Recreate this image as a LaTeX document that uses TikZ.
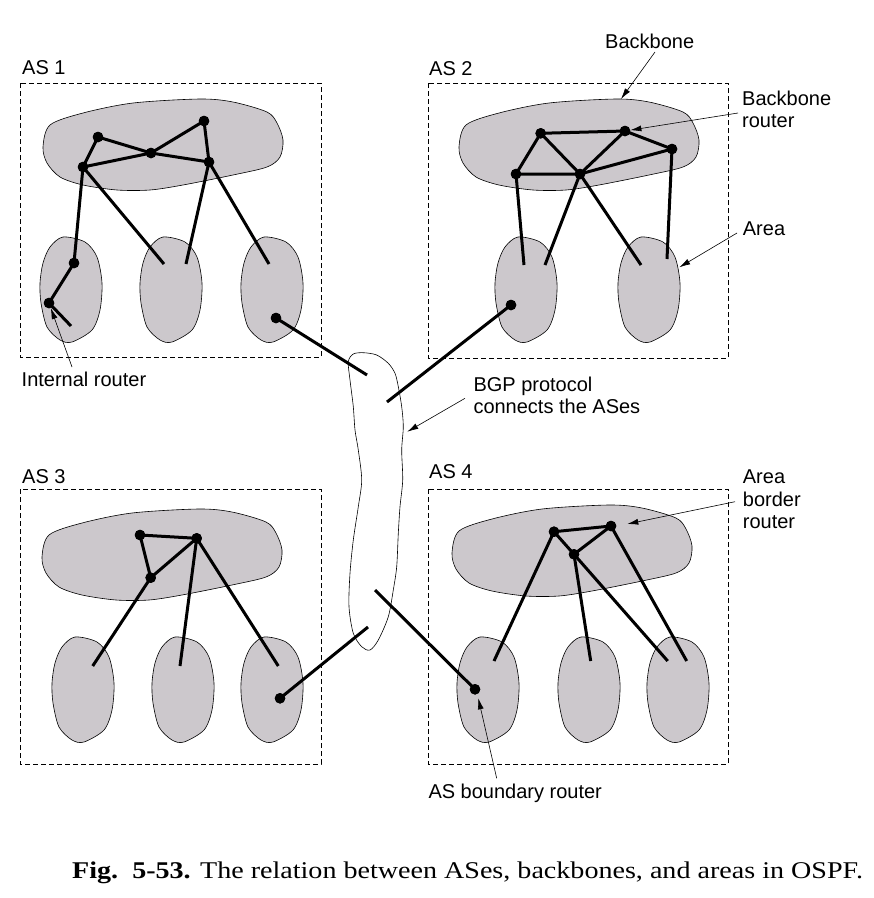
\documentclass[tikz,border=0pt]{standalone}
\usepackage{fontspec}
\usepackage{graphicx}
\setmainfont{Liberation Serif}
\newfontfamily\labfont{Liberation Sans}
\usetikzlibrary{arrows.meta}
\definecolor{areagray}{RGB}{204,200,204}
\tikzset{
  asbox/.style={draw=black, line width=0.8pt, dash pattern=on 5pt off 3pt},
  blob/.style={fill=areagray, draw=black, line width=0.6pt},
  bgpblob/.style={draw=black, line width=0.6pt},
  router/.style={circle, fill=black, inner sep=0pt, minimum size=10.5pt},
  link/.style={line width=3pt},
  lbl/.style={line width=0.6pt, -{Latex[length=11pt,width=6pt]}},
  txt/.style={font=\labfont\fontsize{20}{22.5}\selectfont, inner sep=0pt, anchor=base west},
  mtxt/.style={font=\labfont\fontsize{20}{22.5}\selectfont, inner sep=0pt, anchor=north west, align=left},
}
\begin{document}
\begin{tikzpicture}[x=1pt, y=-1pt]
\useasboundingbox (0,0) rectangle (874,898);

% AS boxes
\draw[asbox] (20,83) rectangle (321,357);
\draw[asbox] (428,83) rectangle (728,358);
\draw[asbox] (20,489) rectangle (321,764);
\draw[asbox] (428,489) rectangle (728,764);

\node[txt] (as1) at (22,74.5) {AS 1};
\node[txt] (as2) at (429,75) {AS 2};
\node[txt] (as3) at (22,483) {AS 3};
\node[txt] (as4) at (429,478.5) {AS 4};

% backbones
\foreach \px/\py in {43/99, 459/99, 42/509, 452/505}{
  \draw[blob, shift={(\px,\py)}] plot[smooth cycle] coordinates
   {(0,48) (7,26) (40,14) (90,4) (157,0) (190,3) (224,13) (234,24) (240,41) (237,58) (224,68) (190,76) (140,86) (107,91) (74,91) (40,86) (17,78) (4,64)};
}
% areas
\foreach \px/\py in {40/237, 140/237, 241/237, 495/237, 618/237, 52/637, 152/637, 241/637, 457/637, 558/637, 647/637}{
  \draw[blob, shift={(\px,\py)}] plot[smooth cycle] coordinates
   {(23,0) (45,5) (57,20) (62,46) (60,73) (52,93) (32,105) (20,103) (7,90) (1,66) (0,46) (3,26) (10,10)};
}
% BGP blob
\draw[bgpblob] plot[smooth cycle] coordinates
 {(363.3,352.7) (376.7,355) (388.3,363.3) (395,373.3) (398.3,386.7) (401.7,406.7) (403.3,426.7) (401.7,450) (402.7,480) (400,506.7) (398.3,533.3) (396.7,566.7) (393.3,590) (388.3,616.7) (378.3,640) (370,650) (361.7,646.7) (353.3,633.3) (349,606.7) (350,573.3) (353.3,540) (358.3,506.7) (361.7,480) (358.3,450) (355,430) (353.3,406.7) (350,380) (348.3,361.7) (353.3,354)};

% ---- AS 1 ----
\node[router] (a1r1) at (98,137) {};
\node[router] (a1r2) at (204,121) {};
\node[router] (a1r3) at (151,153) {};
\node[router] (a1r4) at (83,167) {};
\node[router] (a1r5) at (209,162) {};
\node[router] (a1r6) at (74,263) {};
\node[router] (a1r7) at (49,303) {};
\node[router] (a1r8) at (276,318) {};
\coordinate (a1e1) at (71,326);
\coordinate (a1e2) at (164,264);
\coordinate (a1e3) at (186,264);
\coordinate (a1e4) at (269,264);
\coordinate (bgp1) at (367,375);
\draw[link] (a1r1.center) -- (a1r4.center);
\draw[link] (a1r1.center) -- (a1r3.center) -- (a1r5.center);
\draw[link] (a1r4.center) -- (a1r3.center) -- (a1r2.center);
\draw[link] (a1r2.center) -- (a1r5.center);
\draw[link] (a1r4.center) -- (a1r6.center) -- (a1r7.center) -- (a1e1);
\draw[link] (a1r4.center) -- (a1e2);
\draw[link] (a1r5.center) -- (a1e3);
\draw[link] (a1r5.center) -- (a1e4);
\draw[link] (a1r8.center) -- (bgp1);

% ---- AS 2 ----
\node[router] (a2r1) at (540.7,133.3) {};
\node[router] (a2r2) at (625,131) {};
\node[router] (a2r3) at (672,149) {};
\node[router] (a2r4) at (516,174) {};
\node[router] (a2r5) at (580,174) {};
\node[router] (a2r6) at (511,305) {};
\coordinate (a2e1) at (524,265);
\coordinate (a2e2) at (545,265);
\coordinate (a2e3) at (641,265);
\coordinate (a2e4) at (667,259);
\coordinate (bgp2) at (387,402);
\draw[link] (a2r1.center) -- (a2r2.center) -- (a2r3.center);
\draw[link] (a2r1.center) -- (a2r4.center) -- (a2r5.center) -- (a2r3.center);
\draw[link] (a2r1.center) -- (a2r5.center) -- (a2r2.center);
\draw[link] (a2r4.center) -- (a2e1);
\draw[link] (a2r5.center) -- (a2e2);
\draw[link] (a2r5.center) -- (a2e3);
\draw[link] (a2r3.center) -- (a2e4);
\draw[link] (a2r6.center) -- (bgp2);

% ---- AS 3 ----
\node[router] (a3r1) at (140,535) {};
\node[router] (a3r2) at (196.7,538.3) {};
\node[router] (a3r3) at (150.7,577.7) {};
\node[router] (a3r4) at (280,698.3) {};
\coordinate (a3e1) at (92.7,666);
\coordinate (a3e2) at (180,666);
\coordinate (a3e3) at (278.3,666);
\coordinate (bgp3) at (368,627);
\draw[link] (a3r1.center) -- (a3r2.center) -- (a3r3.center) -- (a3r1.center);
\draw[link] (a3r3.center) -- (a3e1);
\draw[link] (a3r2.center) -- (a3e2);
\draw[link] (a3r2.center) -- (a3e3);
\draw[link] (a3r4.center) -- (bgp3);

% ---- AS 4 ----
\node[router] (a4r1) at (554,531.7) {};
\node[router] (a4r2) at (611,526) {};
\node[router] (a4r3) at (574,554.3) {};
\node[router] (a4r4) at (475,689.3) {};
\coordinate (a4e1) at (494,661);
\coordinate (a4e2) at (590.7,661);
\coordinate (a4e3) at (667.7,661);
\coordinate (a4e4) at (686.7,661);
\coordinate (bgp4) at (375,590);
\draw[link] (a4r1.center) -- (a4r2.center) -- (a4r3.center) -- (a4r1.center);
\draw[link] (a4r1.center) -- (a4e1);
\draw[link] (a4r3.center) -- (a4e2);
\draw[link] (a4r3.center) -- (a4e3);
\draw[link] (a4r2.center) -- (a4e4);
\draw[link] (a4r4.center) -- (bgp4);

% redraw routers on top
\foreach \r in {a1r1,a1r2,a1r3,a1r4,a1r5,a1r6,a1r7,a1r8,a2r1,a2r2,a2r3,a2r4,a2r5,a2r6,a3r1,a3r2,a3r3,a3r4,a4r1,a4r2,a4r3,a4r4}
  \fill (\r.center) circle (5.25pt);

% ---- labels ----
\node[txt] (lint) at (21.5,386.7) {Internal router};
\coordinate (lintt) at (72,367);
\draw[lbl] (lintt) -- (a1r7);

\node[txt] (lbb) at (605,48.3) {Backbone};
\coordinate (lbbt) at (655,52);
\coordinate (lbbh) at (621,99);
\draw[lbl] (lbbt) -- (lbbh);

\node[mtxt] (lbr) at (742,90.4) {Backbone\\router};
\coordinate (lbrt) at (738,113);
\draw[lbl] (lbrt) -- (a2r2);

\node[txt] (larea) at (742.7,235) {Area};
\coordinate (lareat) at (737,233);
\coordinate (lareah) at (679.3,267.3);
\draw[lbl] (lareat) -- (lareah);

\node[mtxt] (lbgp) at (473.3,376.3) {BGP protocol\\connects the ASes};
\coordinate (lbgpt) at (465,398.3);
\coordinate (lbgph) at (407.3,431.7);
\draw[lbl] (lbgpt) -- (lbgph);

\node[mtxt] (labr) at (742.7,470) {Area\\border\\router};
\coordinate (labrt) at (735,501.7);
\coordinate (labrh) at (627.3,524);
\draw[lbl] (labrt) -- (labrh);

\node[txt] (lasb) at (428.3,798.3) {AS boundary router};
\coordinate (lasbt) at (496.7,778.3);
\coordinate (lasbh) at (478.3,698.3);
\draw[lbl] (lasbt) -- (lasbh);

% caption
\node[inner sep=0pt, anchor=base west] (cap) at (72,878.3)
 {\fontsize{24}{28}\selectfont\scalebox{1.17}[1]{\textbf{Fig.\ \ 5-53.} The relation between ASes, backbones, and areas in OSPF.}};
\end{tikzpicture}
\end{document}
